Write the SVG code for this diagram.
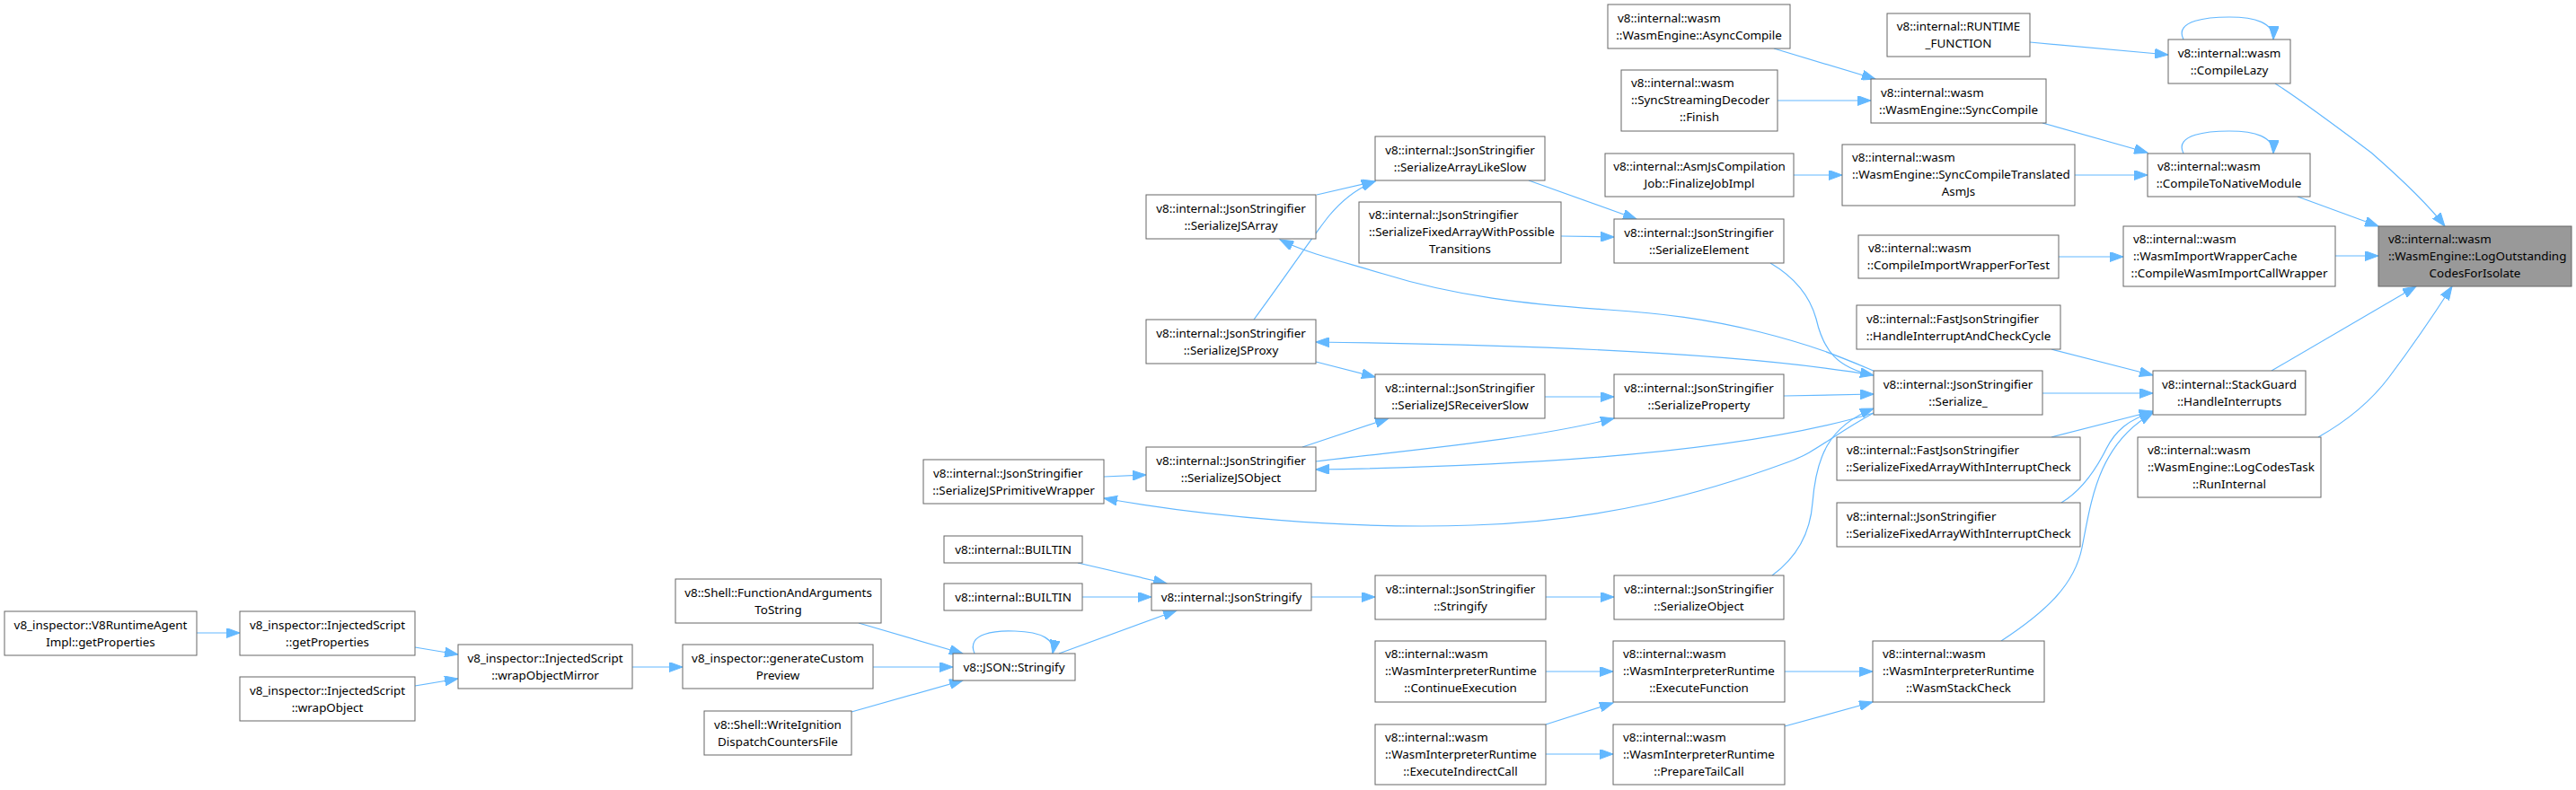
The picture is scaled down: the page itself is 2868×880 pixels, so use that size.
<svg xmlns="http://www.w3.org/2000/svg" width="2868" height="880" viewBox="0 0 2868 880">
<style>
.node rect{fill:#fff;stroke:#666;stroke-width:1}
.node text{font-family:"Noto Sans","Liberation Sans",sans-serif;font-size:13.4px;fill:#000}
.c{text-anchor:middle}
.l{text-anchor:start}
#n39 rect{fill:#999}
.edges path{fill:none;stroke:#63b8ff;stroke-width:1.2;marker-end:url(#a)}
</style>
<defs>
<marker id="a" markerWidth="16" markerHeight="11" refX="15" refY="5.5" orient="auto" markerUnits="userSpaceOnUse"><path d="M0,0 L15,5.5 L0,11 z" fill="#63b8ff" stroke="#63b8ff" stroke-width="1"/></marker>
</defs>
<rect width="2868" height="880" fill="#fff"/>
<g class="edges">
<path d="M219,705 L267,705"/>
<path d="M462,721 L510,729"/>
<path d="M462,764 L510,756"/>
<path d="M704,743 L760,743"/>
<path d="M956,694 L1072,728"/>
<path d="M972,743 L1061,743"/>
<path d="M948,793 L1072,758"/>
<path d="M1085,728 C1075,705 1110,702 1130,703 C1160,704 1175,712 1172,728"/>
<path d="M1179,728 L1310,680"/>
<path d="M1200,627 L1299,650"/>
<path d="M1205,665 L1282,665"/>
<path d="M1460,665 L1531,665"/>
<path d="M1721,665 L1797,665"/>
<path d="M1973,641 C1995,625 2015,600 2018,560 C2022,510 2035,475 2086,455"/>
<path d="M1721,748 L1796,748"/>
<path d="M1721,807 L1796,783"/>
<path d="M1721,840 L1796,840"/>
<path d="M1987,748 L2085,748"/>
<path d="M1987,809 L2085,782"/>
<path d="M2228,714 C2280,680 2310,650 2318,610 C2328,560 2335,495 2397,460"/>
<path d="M1229,531 L1276,529"/>
<path d="M2086,460 C2040,485 2020,505 1990,515 C1900,548 1790,580 1640,585 C1500,590 1340,575 1229,555"/>
<path d="M2086,413 C2050,398 2020,385 1960,370 C1900,355 1850,349 1790,345 C1700,339 1620,330 1540,305 C1490,290 1455,282 1425,267"/>
<path d="M2086,418 C1980,400 1800,385 1465,381"/>
<path d="M2086,460 C1980,492 1800,518 1465,523"/>
<path d="M1465,514 C1580,500 1700,490 1797,466"/>
<path d="M1465,403 L1531,420"/>
<path d="M1450,498 L1546,466"/>
<path d="M1720,442 L1797,442"/>
<path d="M1986,441 L2086,439"/>
<path d="M1466,217 L1531,202"/>
<path d="M1396,356 C1430,310 1460,265 1480,240 C1495,222 1510,210 1531,202"/>
<path d="M1702,201 L1822,244"/>
<path d="M1738,263 L1797,264"/>
<path d="M1971,293 C2000,310 2015,330 2022,355 C2030,390 2045,410 2086,418"/>
<path d="M2274,438 L2397,438"/>
<path d="M2284,389 L2397,418"/>
<path d="M2284,487 L2397,458"/>
<path d="M2295,560 C2320,545 2335,520 2345,500 C2355,480 2370,467 2397,459"/>
<path d="M2529,413 L2690,319"/>
<path d="M2581,487 C2620,465 2645,440 2660,420 C2690,380 2710,350 2730,319"/>
<path d="M2600,285 L2648,285"/>
<path d="M2558,219 L2648,252"/>
<path d="M2533,93 C2560,110 2600,140 2640,170 C2680,205 2705,230 2722,252"/>
<path d="M2260,47 L2414,61"/>
<path d="M2431,44 C2420,22 2460,19 2482,19 C2510,19 2532,25 2531,44"/>
<path d="M2431,171 C2420,149 2460,146 2482,146 C2510,146 2532,152 2531,171"/>
<path d="M2274,137 L2391,170"/>
<path d="M2310,195 L2391,195"/>
<path d="M1975,54 L2088,88"/>
<path d="M1979,112 L2083,112"/>
<path d="M1997,195 L2051,195"/>
<path d="M2292,286 L2364,286"/>
</g>
<g id="n1" class="node"><rect x="5" y="681" width="214" height="49"/><text class="c" x="112" y="700.5">v8_inspector::V8RuntimeAgent</text><text class="c" x="112" y="719.5">Impl::getProperties</text></g>
<g id="n2" class="node"><rect x="267" y="681" width="195" height="49"/><text class="c" x="364.5" y="700.5">v8_inspector::InjectedScript</text><text class="c" x="364.5" y="719.5">::getProperties</text></g>
<g id="n3" class="node"><rect x="267" y="754" width="195" height="49"/><text class="c" x="364.5" y="773.5">v8_inspector::InjectedScript</text><text class="c" x="364.5" y="792.5">::wrapObject</text></g>
<g id="n4" class="node"><rect x="510" y="718" width="194" height="49"/><text class="c" x="607" y="737.5">v8_inspector::InjectedScript</text><text class="c" x="607" y="756.5">::wrapObjectMirror</text></g>
<g id="n5" class="node"><rect x="760" y="718" width="212" height="49"/><text class="c" x="866" y="737.5">v8_inspector::generateCustom</text><text class="c" x="866" y="756.5">Preview</text></g>
<g id="n6" class="node"><rect x="752" y="645" width="229" height="49"/><text class="c" x="866.5" y="664.5">v8::Shell::FunctionAndArguments</text><text class="c" x="866.5" y="683.5">ToString</text></g>
<g id="n7" class="node"><rect x="784" y="792" width="164" height="49"/><text class="c" x="866" y="811.5">v8::Shell::WriteIgnition</text><text class="c" x="866" y="830.5">DispatchCountersFile</text></g>
<g id="n8" class="node"><rect x="1061" y="728" width="136" height="30"/><text class="c" x="1129" y="747.5">v8::JSON::Stringify</text></g>
<g id="n9" class="node"><rect x="1051" y="597" width="154" height="30"/><text class="c" x="1128" y="616.5">v8::internal::BUILTIN</text></g>
<g id="n10" class="node"><rect x="1051" y="650" width="154" height="30"/><text class="c" x="1128" y="669.5">v8::internal::BUILTIN</text></g>
<g id="n11" class="node"><rect x="1282" y="650" width="178" height="30"/><text class="c" x="1371" y="669.5">v8::internal::JsonStringify</text></g>
<g id="n12" class="node"><rect x="1531" y="641" width="190" height="49"/><text class="c" x="1626" y="660.5">v8::internal::JsonStringifier</text><text class="c" x="1626" y="679.5">::Stringify</text></g>
<g id="n13" class="node"><rect x="1797" y="641" width="189" height="49"/><text class="c" x="1891.5" y="660.5">v8::internal::JsonStringifier</text><text class="c" x="1891.5" y="679.5">::SerializeObject</text></g>
<g id="n14" class="node"><rect x="1531" y="714" width="190" height="68"/><text class="l" x="1542" y="733">v8::internal::wasm</text><text class="l" x="1542" y="752">::WasmInterpreterRuntime</text><text class="c" x="1626" y="771">::ContinueExecution</text></g>
<g id="n15" class="node"><rect x="1531" y="807" width="190" height="67"/><text class="l" x="1542" y="825.5">v8::internal::wasm</text><text class="l" x="1542" y="844.5">::WasmInterpreterRuntime</text><text class="c" x="1626" y="863.5">::ExecuteIndirectCall</text></g>
<g id="n16" class="node"><rect x="1796" y="714" width="191" height="68"/><text class="l" x="1807" y="733">v8::internal::wasm</text><text class="l" x="1807" y="752">::WasmInterpreterRuntime</text><text class="c" x="1891.5" y="771">::ExecuteFunction</text></g>
<g id="n17" class="node"><rect x="1796" y="807" width="191" height="67"/><text class="l" x="1807" y="825.5">v8::internal::wasm</text><text class="l" x="1807" y="844.5">::WasmInterpreterRuntime</text><text class="c" x="1891.5" y="863.5">::PrepareTailCall</text></g>
<g id="n18" class="node"><rect x="2085" y="714" width="191" height="68"/><text class="l" x="2096" y="733">v8::internal::wasm</text><text class="l" x="2096" y="752">::WasmInterpreterRuntime</text><text class="c" x="2180.5" y="771">::WasmStackCheck</text></g>
<g id="n19" class="node"><rect x="1028" y="512" width="201" height="49"/><text class="l" x="1039" y="531.5">v8::internal::JsonStringifier</text><text class="c" x="1128.5" y="550.5">::SerializeJSPrimitiveWrapper</text></g>
<g id="n20" class="node"><rect x="1276" y="498" width="189" height="49"/><text class="c" x="1370.5" y="517.5">v8::internal::JsonStringifier</text><text class="c" x="1370.5" y="536.5">::SerializeJSObject</text></g>
<g id="n21" class="node"><rect x="1276" y="356" width="189" height="49"/><text class="c" x="1370.5" y="375.5">v8::internal::JsonStringifier</text><text class="c" x="1370.5" y="394.5">::SerializeJSProxy</text></g>
<g id="n22" class="node"><rect x="1276" y="217" width="189" height="49"/><text class="c" x="1370.5" y="236.5">v8::internal::JsonStringifier</text><text class="c" x="1370.5" y="255.5">::SerializeJSArray</text></g>
<g id="n23" class="node"><rect x="1531" y="152" width="189" height="49"/><text class="c" x="1625.5" y="171.5">v8::internal::JsonStringifier</text><text class="c" x="1625.5" y="190.5">::SerializeArrayLikeSlow</text></g>
<g id="n24" class="node"><rect x="1513" y="225" width="225" height="68"/><text class="l" x="1524" y="244">v8::internal::JsonStringifier</text><text class="l" x="1524" y="263">::SerializeFixedArrayWithPossible</text><text class="c" x="1625.5" y="282">Transitions</text></g>
<g id="n25" class="node"><rect x="1531" y="417" width="189" height="49"/><text class="c" x="1625.5" y="436.5">v8::internal::JsonStringifier</text><text class="c" x="1625.5" y="455.5">::SerializeJSReceiverSlow</text></g>
<g id="n26" class="node"><rect x="1797" y="244" width="189" height="49"/><text class="c" x="1891.5" y="263.5">v8::internal::JsonStringifier</text><text class="c" x="1891.5" y="282.5">::SerializeElement</text></g>
<g id="n27" class="node"><rect x="1797" y="417" width="189" height="49"/><text class="c" x="1891.5" y="436.5">v8::internal::JsonStringifier</text><text class="c" x="1891.5" y="455.5">::SerializeProperty</text></g>
<g id="n28" class="node"><rect x="2086" y="413" width="188" height="49"/><text class="c" x="2180" y="432.5">v8::internal::JsonStringifier</text><text class="c" x="2180" y="451.5">::Serialize_</text></g>
<g id="n29" class="node"><rect x="1787" y="171" width="210" height="48"/><text class="c" x="1892" y="190">v8::internal::AsmJsCompilation</text><text class="c" x="1892" y="209">Job::FinalizeJobImpl</text></g>
<g id="n30" class="node"><rect x="2051" y="161" width="259" height="68"/><text class="l" x="2062" y="180">v8::internal::wasm</text><text class="l" x="2062" y="199">::WasmEngine::SyncCompileTranslated</text><text class="c" x="2180.5" y="218">AsmJs</text></g>
<g id="n31" class="node"><rect x="1790" y="5" width="203" height="49"/><text class="l" x="1801" y="24.5">v8::internal::wasm</text><text class="c" x="1891.5" y="43.5">::WasmEngine::AsyncCompile</text></g>
<g id="n32" class="node"><rect x="1805" y="78" width="174" height="68"/><text class="l" x="1816" y="97">v8::internal::wasm</text><text class="l" x="1816" y="116">::SyncStreamingDecoder</text><text class="c" x="1892" y="135">::Finish</text></g>
<g id="n33" class="node"><rect x="2083" y="88" width="195" height="49"/><text class="l" x="2094" y="107.5">v8::internal::wasm</text><text class="c" x="2180.5" y="126.5">::WasmEngine::SyncCompile</text></g>
<g id="n34" class="node"><rect x="2101" y="15" width="159" height="48"/><text class="c" x="2180.5" y="34">v8::internal::RUNTIME</text><text class="c" x="2180.5" y="53">_FUNCTION</text></g>
<g id="n35" class="node"><rect x="2414" y="44" width="136" height="49"/><text class="c" x="2482" y="63.5">v8::internal::wasm</text><text class="c" x="2482" y="82.5">::CompileLazy</text></g>
<g id="n36" class="node"><rect x="2391" y="171" width="181" height="48"/><text class="l" x="2402" y="190">v8::internal::wasm</text><text class="c" x="2481.5" y="209">::CompileToNativeModule</text></g>
<g id="n37" class="node"><rect x="2069" y="262" width="223" height="48"/><text class="l" x="2080" y="281">v8::internal::wasm</text><text class="c" x="2180.5" y="300">::CompileImportWrapperForTest</text></g>
<g id="n38" class="node"><rect x="2364" y="252" width="236" height="67"/><text class="l" x="2375" y="270.5">v8::internal::wasm</text><text class="l" x="2375" y="289.5">::WasmImportWrapperCache</text><text class="c" x="2482" y="308.5">::CompileWasmImportCallWrapper</text></g>
<g id="n39" class="node"><rect x="2648" y="252" width="215" height="67"/><text class="l" x="2659" y="270.5">v8::internal::wasm</text><text class="l" x="2659" y="289.5">::WasmEngine::LogOutstanding</text><text class="c" x="2755.5" y="308.5">CodesForIsolate</text></g>
<g id="n40" class="node"><rect x="2067" y="340" width="227" height="49"/><text class="l" x="2078" y="359.5">v8::internal::FastJsonStringifier</text><text class="c" x="2180.5" y="378.5">::HandleInterruptAndCheckCycle</text></g>
<g id="n41" class="node"><rect x="2045" y="487" width="271" height="48"/><text class="l" x="2056" y="506">v8::internal::FastJsonStringifier</text><text class="c" x="2180.5" y="525">::SerializeFixedArrayWithInterruptCheck</text></g>
<g id="n42" class="node"><rect x="2045" y="560" width="271" height="49"/><text class="l" x="2056" y="579.5">v8::internal::JsonStringifier</text><text class="c" x="2180.5" y="598.5">::SerializeFixedArrayWithInterruptCheck</text></g>
<g id="n43" class="node"><rect x="2397" y="413" width="170" height="49"/><text class="c" x="2482" y="432.5">v8::internal::StackGuard</text><text class="c" x="2482" y="451.5">::HandleInterrupts</text></g>
<g id="n44" class="node"><rect x="2380" y="487" width="204" height="67"/><text class="l" x="2391" y="505.5">v8::internal::wasm</text><text class="l" x="2391" y="524.5">::WasmEngine::LogCodesTask</text><text class="c" x="2482" y="543.5">::RunInternal</text></g>
</svg>
